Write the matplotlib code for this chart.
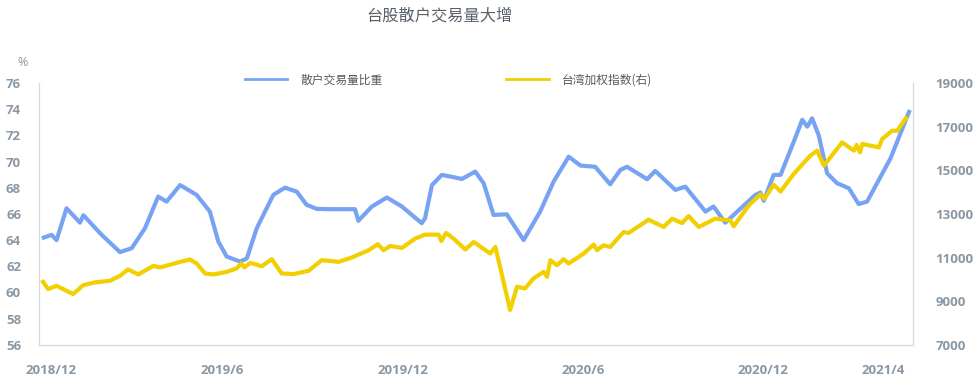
import matplotlib
matplotlib.use('Agg')
import matplotlib.pyplot as plt
from matplotlib.lines import Line2D

# x positions are months counted from 2018/12
retail_x = [0.0, 0.32, 0.49, 0.82, 1.27, 1.38, 1.99, 2.60, 2.99, 3.43, 3.87, 4.15, 4.60,
            5.15, 5.59, 5.87, 6.15, 6.59, 6.82, 7.15, 7.70, 8.09, 8.48, 8.81, 9.15, 9.59,
            10.42, 10.53, 10.98, 11.48, 11.98, 12.64, 12.75, 12.98, 13.31, 13.98, 14.42,
            14.70, 15.03, 15.47, 16.03, 16.58, 17.03, 17.53, 17.92, 18.41, 18.91, 19.25,
            19.47, 20.14, 20.41, 21.08, 21.41, 22.08, 22.35, 22.74, 23.08, 23.74, 23.91,
            24.02, 24.35, 24.58, 25.02, 25.30, 25.47, 25.63, 25.85, 26.13, 26.46, 26.85,
            27.18, 27.46, 28.24, 28.88]
retail_share = [64.14, 64.4, 64.0, 66.43, 65.33, 65.9, 64.4, 63.08, 63.38, 64.9, 67.32, 66.94, 68.2,
                67.45, 66.18, 63.9, 62.74, 62.36, 62.6, 64.9, 67.45, 68.0, 67.7, 66.69, 66.38, 66.36,
                66.36, 65.47, 66.56, 67.25, 66.56, 65.29, 65.67, 68.2, 68.98, 68.67, 69.23,
                68.34, 65.92, 65.97, 64.0, 66.18, 68.47, 70.37, 69.69, 69.6, 68.26, 69.36,
                69.6, 68.65, 69.28, 67.83, 68.08, 66.18, 66.56, 65.33, 66.05, 67.45, 67.63,
                67.0, 68.98, 68.98, 71.52, 73.18, 72.66, 73.3, 72.0, 69.1, 68.34, 67.96,
                66.75, 66.94, 70.25, 73.94]

taiex_x = [0.0, 0.21, 0.49, 0.77, 1.04, 1.38, 1.76, 2.26, 2.60, 2.87, 3.21, 3.71, 3.93, 4.60,
           4.93, 5.15, 5.43, 5.71, 6.15, 6.48, 6.63, 6.74, 6.93, 7.32, 7.65, 7.98, 8.37, 8.87,
           9.31, 9.59, 9.87, 10.31, 10.87, 11.18, 11.37, 11.59, 11.98, 12.42, 12.75, 13.20,
           13.29, 13.45, 13.70, 14.09, 14.37, 14.92, 15.09, 15.31, 15.58, 15.81, 16.08,
           16.36, 16.69, 16.81, 16.92, 17.14, 17.36, 17.53, 18.03, 18.36, 18.47, 18.69,
           18.91, 19.36, 19.52, 20.19, 20.69, 20.97, 21.30, 21.52, 21.86, 22.41, 22.91,
           23.02, 23.52, 23.91, 24.04, 24.35, 24.58, 25.02, 25.57, 25.80, 26.02, 26.63,
           27.02, 27.11, 27.22, 27.30, 27.85, 27.96, 28.29, 28.46, 28.79]
taiex = [9965, 9555, 9706, 9509, 9326, 9737, 9860, 9934, 10162, 10454, 10225, 10618, 10545, 10800,
         10910, 10727, 10270, 10225, 10343, 10500, 10727, 10545, 10756, 10604, 10924, 10270, 10240, 10390,
         10878, 10846, 10800, 11000, 11334, 11608, 11334, 11530, 11440, 11868, 12050, 12050,
         11760, 12124, 11868, 11366, 11713, 11183, 11485, 10193, 8596, 9660, 9587,
         10043, 10343, 10117, 10878, 10650, 10924, 10727, 11183, 11594, 11334, 11562,
         11485, 12170, 12124, 12735, 12400, 12780, 12580, 12900, 12400, 12780, 12703,
         12430, 13388, 13890, 13693, 14332, 14026, 14834, 15669, 15897, 15213, 16276,
         15897, 16157, 15819, 16203, 16048, 16431, 16810, 16810, 17462]

tick_pos = [0.3, 6, 12, 18, 24, 28]
tick_labels = ['2018/12', '2019/6', '2019/12', '2020/6', '2020/12', '2021/4']

cjk = ['Noto Sans CJK SC', 'DejaVu Sans']
tick_font = {'family': 'Open Sans', 'weight': 'bold', 'size': 9.5}
tick_color = '#8a98a5'
spine_color = '#d9d9d9'
blue = '#78a3f3'
yellow = '#f1cf00'

fig = plt.figure(figsize=(9.79, 3.84), dpi=100)
ax = fig.add_axes([0.040, 0.102, 0.893, 0.682])
ax2 = ax.twinx()

ax.plot(retail_x, retail_share, color=blue, lw=3, solid_capstyle='butt', solid_joinstyle='round')
ax2.plot(taiex_x, taiex, color=yellow, lw=3, solid_capstyle='butt', solid_joinstyle='round')

ax.set_xlim(-0.09, 29.0)
ax.set_ylim(56, 76)
ax.set_yticks(range(56, 77, 2))
ax2.set_ylim(7000, 19000)
ax2.set_yticks(range(7000, 19001, 2000))
ax.set_xticks(tick_pos)
ax.set_xticklabels(tick_labels)

for a in (ax, ax2):
    for s in a.spines.values():
        s.set_color(spine_color)
    a.spines['top'].set_visible(False)
    for lab in a.get_xticklabels() + a.get_yticklabels():
        lab.set_fontfamily(tick_font['family'])
        lab.set_fontweight(tick_font['weight'])
        lab.set_fontsize(tick_font['size'])
        lab.set_color(tick_color)
ax.tick_params(axis='both', length=0)
ax.tick_params(axis='x', pad=14)
ax.tick_params(axis='y', pad=13)
ax2.tick_params(axis='y', length=0, pad=16)

fig.text(0.018, 0.836, '%', fontsize=9, color=tick_color, family='Open Sans', va='center')
fig.text(0.449, 0.958, '台股散户交易量大增', ha='center', va='center', fontsize=11.7,
         color='#58606a', family=cjk)

handles = [Line2D([], [], color=blue, lw=2), Line2D([], [], color=yellow, lw=2)]
leg = fig.legend(handles, ['散户交易量比重', '台湾加权指数(右)'], loc='center',
                 bbox_to_anchor=(0.458, 0.792), ncol=2, frameon=False,
                 handlelength=3.6, handletextpad=1.1, columnspacing=10.5,
                 prop={'family': cjk, 'size': 8.5})
for t in leg.get_texts():
    t.set_color('#595959')

fig.savefig('out.png', dpi=100, facecolor='white')
